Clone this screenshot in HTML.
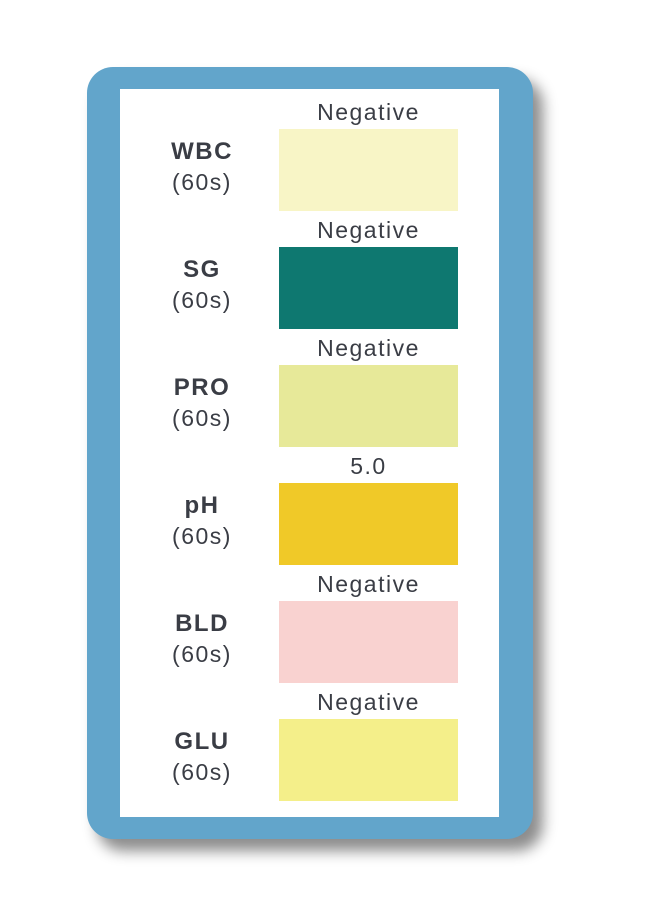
<!DOCTYPE html>
<html><head><style>
body{margin:0;width:660px;height:900px;background:#fff;position:relative;overflow:hidden;font-family:"Liberation Sans",sans-serif;}
.outer{position:absolute;left:87px;top:67px;width:446px;height:772px;background:#62a5cb;border-radius:26px;box-shadow:10px 12px 14px rgba(0,0,0,0.45);}
.inner{position:absolute;left:120px;top:89px;width:379px;height:728px;background:#fff;}
.sw{position:absolute;left:279px;width:179px;height:82px;}
.val{position:absolute;left:269px;width:199px;text-align:center;font-size:23px;color:#3a3d45;letter-spacing:1.5px;}
.lab{position:absolute;left:130px;width:144px;text-align:center;color:#3a3d45;}
.lab b{display:block;font-size:24px;letter-spacing:1.5px;line-height:30px;}
.lab span{display:block;font-size:23px;line-height:30px;letter-spacing:1.5px;}
</style></head><body>
<div class="outer"></div>
<div class="inner"></div>

<div class="val" style="top:99px">Negative</div>
<div class="sw" style="top:129px;background:#f8f5c6"></div>
<div class="lab" style="top:137px"><b>WBC</b><span>(60s)</span></div>

<div class="val" style="top:217px">Negative</div>
<div class="sw" style="top:247px;background:#0e7870"></div>
<div class="lab" style="top:255px"><b>SG</b><span>(60s)</span></div>

<div class="val" style="top:335px">Negative</div>
<div class="sw" style="top:365px;background:#e7e999"></div>
<div class="lab" style="top:373px"><b>PRO</b><span>(60s)</span></div>

<div class="val" style="top:453px">5.0</div>
<div class="sw" style="top:483px;background:#f0c928"></div>
<div class="lab" style="top:491px"><b>pH</b><span>(60s)</span></div>

<div class="val" style="top:571px">Negative</div>
<div class="sw" style="top:601px;background:#f9d2d0"></div>
<div class="lab" style="top:609px"><b>BLD</b><span>(60s)</span></div>

<div class="val" style="top:689px">Negative</div>
<div class="sw" style="top:719px;background:#f4ef8a"></div>
<div class="lab" style="top:727px"><b>GLU</b><span>(60s)</span></div>
</body></html>
